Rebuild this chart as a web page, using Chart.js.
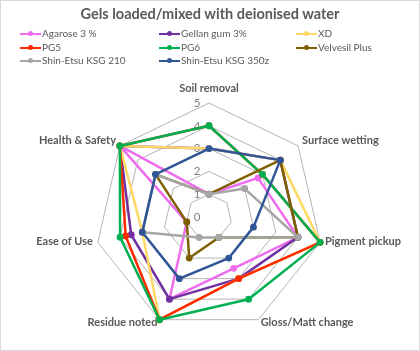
<!DOCTYPE html>
<html>
<head>
<meta charset="utf-8">
<script src="https://cdn.jsdelivr.net/npm/chart.js@4.4.0/dist/chart.umd.min.js"></script>
<style>
  html, body { margin: 0; padding: 0; background: #fff; }
  #wrap { position: relative; width: 420px; height: 351px; font-family: Lato, "Open Sans", sans-serif; }
  #frame { position: absolute; left: 0; top: 0; width: 420px; height: 351px; box-sizing: border-box; border: 1px solid #d9d9d9; pointer-events: none; }
  #title { position: absolute; left: 0; top: 5px; width: 420px; text-align: center; font-weight: bold; font-size: 14.5px; color: #595959; }
  .item { position: absolute; font-size: 10px; color: #595959; height: 13px; line-height: 13px; white-space: nowrap; }
  .item .mark { position: absolute; left: -22px; top: 5.5px; width: 21px; height: 2px; }
  .item .dot { position: absolute; left: 8px; top: -2px; width: 5px; height: 5px; border-radius: 50%; }
  canvas { position: absolute; left: 0; top: 0; }
</style>
</head>
<body>
<div id="wrap">
  <canvas id="radarChart" width="420" height="351"></canvas>
  <div id="title">Gels loaded/mixed with deionised water</div>
  <div id="legend"></div>
  <div id="frame"></div>
</div>
<script>
// axes of the radar
var categories = ["Soil removal", "Surface wetting", "Pigment pickup", "Gloss/Matt change", "Residue noted", "Ease of Use", "Health & Safety"];

// scores (0 - 5)
var agarose = [1, 2.75, 4, 2.5, 4, 1, 5];
var gellan = [3, 4, 4, 3, 4, 3.5, 5];
var xd = [3, 4, 5, 3, 5, 3, 5];
var pg5 = [4, 3, 5, 3, 5, 3.75, 5];
var pg6 = [4, 3, 5, 4, 5, 4, 5];
var velvesil = [1, 4, 4, 1, 2, 1, 3];
var ksg210 = [1, 2, 4, 1, 1, 3, 3];
var ksg350z = [3, 4, 2, 2, 3, 3, 3];

var tickValues = [0, 1, 2, 3, 4, 5];

var seriesNames = ["Agarose 3 %", "Gellan gum 3%", "XD", "PG5", "PG6", "Velvesil Plus", "Shin-Etsu KSG 210", "Shin-Etsu KSG 350z"];
var seriesData = [agarose, gellan, xd, pg5, pg6, velvesil, ksg210, ksg350z];
var seriesColors = ["#ee6cee", "#7030a0", "#ffd966", "#ff2a00", "#00b050", "#7f6000", "#a6a6a6", "#2f5597"];

var datasets = seriesNames.map(function (name, i) {
  return {
    label: name,
    data: seriesData[i],
    borderColor: seriesColors[i],
    backgroundColor: seriesColors[i],
    pointBackgroundColor: seriesColors[i],
    pointBorderColor: seriesColors[i],
    borderWidth: 2.5,
    borderJoinStyle: "round",
    pointRadius: 2.2,
    pointHoverRadius: 2.2,
    fill: false,
    order: seriesNames.length - i // later series on top, like Excel
  };
});

// tick numbers left of the vertical axis, category names beside each corner (Excel style)
var axisText = {
  id: "axisText",
  beforeDatasetsDraw: function (chart) {
    var r = chart.scales.r;
    var c = chart.ctx;
    c.save();
    c.font = "11.5px Lato, sans-serif";
    c.fillStyle = "#7f7f7f";
    c.textAlign = "center";
    c.textBaseline = "middle";
    tickValues.forEach(function (v) {
      c.fillText(String(v), r.xCenter - 12, r.yCenter - r.getDistanceFromCenterForValue(v));
    });

    c.font = "bold 11px Lato, sans-serif";
    c.fillStyle = "#595959";
    categories.forEach(function (name, i) {
      var p = r.getPointPosition(i, r.drawingArea + 5);
      var dx = p.x - r.xCenter;
      if (Math.abs(dx) < 2) {
        p = r.getPointPosition(i, r.drawingArea + 15);
        c.textAlign = "center";
        c.fillText(name, p.x, p.y);
      } else {
        c.textAlign = dx > 0 ? "left" : "right";
        c.fillText(name, p.x, p.y - 2);
      }
    });
    c.restore();
  }
};

var ctx = document.getElementById("radarChart").getContext("2d");
var myChart = new Chart(ctx, {
  type: "radar",
  data: { labels: categories, datasets: datasets },
  options: {
    responsive: false,
    animation: false,
    layout: { padding: { left: 95, right: 97, top: 103, bottom: 20 } },
    plugins: {
      legend: { display: false },
      title: { display: false },
      tooltip: { enabled: false }
    },
    elements: { line: { tension: 0 } },
    scales: {
      r: {
        min: 0,
        max: 5,
        ticks: { stepSize: 1, display: false },
        angleLines: { display: false },
        grid: { color: "#b4b4b4", lineWidth: 1 },
        pointLabels: { display: false }
      }
    }
  },
  plugins: [axisText]
});

// legend laid out in three columns like the original
var legendBox = document.getElementById("legend");
var colX = [42, 181, 318];
var rowY = [27, 41, 54];
myChart.data.datasets.forEach(function (ds, i) {
  var item = document.createElement("div");
  item.className = "item";
  item.style.left = colX[i % 3] + "px";
  item.style.top = rowY[Math.floor(i / 3)] + "px";
  item.innerHTML = '<span class="mark" style="background:' + ds.borderColor + '"><span class="dot" style="background:' + ds.borderColor + '"></span></span>';
  item.appendChild(document.createTextNode(ds.label));
  legendBox.appendChild(item);
});
</script>
</body>
</html>
